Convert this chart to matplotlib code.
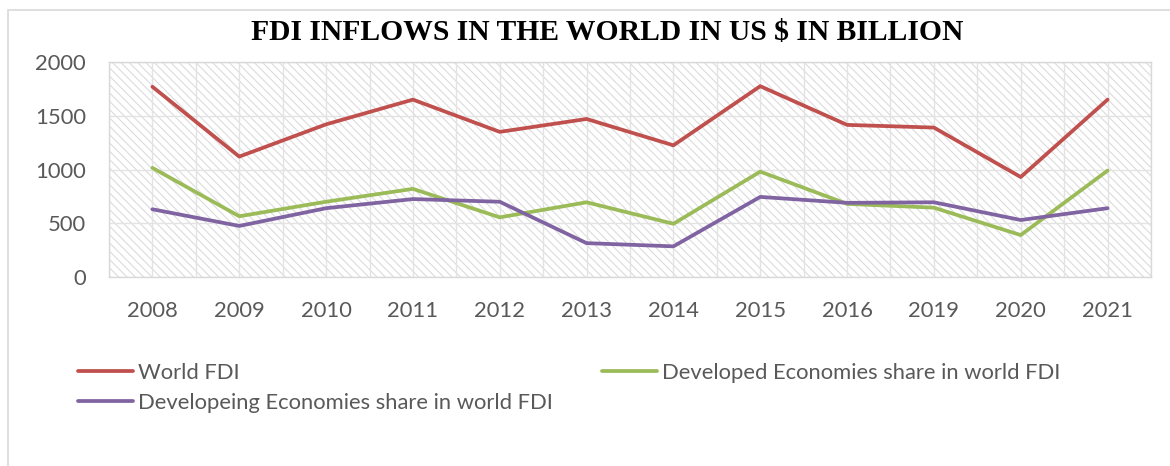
import matplotlib
matplotlib.use("Agg")
import matplotlib.pyplot as plt
from matplotlib.patches import Rectangle
from matplotlib.lines import Line2D
import numpy as np

years = ["2008", "2009", "2010", "2011", "2012", "2013", "2014", "2015", "2016", "2019", "2020", "2021"]
world_fdi = [1770, 1120, 1420, 1650, 1350, 1470, 1225, 1775, 1415, 1390, 930, 1650]
developed = [1015, 565, 700, 820, 555, 695, 495, 980, 680, 645, 390, 990]
developing = [630, 475, 640, 725, 700, 315, 285, 745, 690, 695, 530, 640]
y_ticks = [0, 500, 1000, 1500, 2000]

RED = "#C0504D"
GREEN = "#9BBB59"
PURPLE = "#8064A2"
TXT = "#595959"
FONT = "Lato"
FS = 15.8

plt.rcParams['hatch.color'] = '#DADADA'
plt.rcParams['hatch.linewidth'] = 0.75

fig = plt.figure(figsize=(11.7, 4.66), dpi=100)
W, H = 1170, 466

# outer chart border (cropped on right/bottom)
fig.add_artist(Rectangle((8 / W, -0.1), 2.0, (466 - 10) / H + 0.1, transform=fig.transFigure,
                         fill=False, edgecolor="#D9D9D9", linewidth=1.2))

ax = fig.add_axes([109 / W, (466 - 277) / H, (1151 - 109) / W, (277 - 62) / H])
ax.set_facecolor("white")
ax.add_patch(Rectangle((0, 0), 1, 1, transform=ax.transAxes, facecolor="white",
                       hatch="\\\\\\\\", edgecolor="#DADADA", linewidth=0, zorder=0))

x = np.arange(len(years))
ax.plot(x, world_fdi, color=RED, lw=2.7, solid_capstyle="round", zorder=3)
ax.plot(x, developed, color=GREEN, lw=2.7, solid_capstyle="round", zorder=3)
ax.plot(x, developing, color=PURPLE, lw=2.7, solid_capstyle="round", zorder=3)

ax.set_xlim(-0.5, len(years) - 0.5)
ax.set_ylim(0, 2000)
ax.set_yticks(y_ticks)
ax.set_xticks(x)
ax.set_xticklabels(years)
ax.set_xticks(np.arange(-0.5, len(years), 1.0), minor=True)

ax.grid(True, which="both", axis="x", color="#E3E3E3", lw=1.0, zorder=1)
ax.grid(True, which="major", axis="y", color="#E3E3E3", lw=1.0, zorder=1)
ax.set_axisbelow(True)

for s in ax.spines.values():
    s.set_color("#D9D9D9")
    s.set_linewidth(1.0)

ax.tick_params(axis="both", which="both", length=0, colors=TXT, labelsize=FS)
ax.tick_params(axis="y", pad=16.5)
ax.tick_params(axis="x", pad=17)
for lab in ax.get_xticklabels() + ax.get_yticklabels():
    lab.set_fontfamily(FONT)
    lab.set_color(TXT)

fig.text(607 / W, 1 - 33 / H, "FDI INFLOWS IN THE WORLD IN US $ IN BILLION",
         ha="center", va="center", fontsize=21.3, fontweight="bold",
         fontfamily="Liberation Serif", color="black")

def mk(c):
    return Line2D([], [], color=c, lw=2.7, solid_capstyle="round")

leg1 = fig.legend([mk(RED), mk(PURPLE)], ["World FDI", "Developeing Economies share in world FDI"],
                  loc="upper left", bbox_to_anchor=(67 / W, 1 - 352 / H), frameon=False,
                  handlelength=2.5, handletextpad=0.23, labelspacing=0.46, borderpad=0,
                  prop={"family": FONT, "size": FS})
leg2 = fig.legend([mk(GREEN)], ["Developed Economies share in world FDI"],
                  loc="upper left", bbox_to_anchor=(591 / W, 1 - 352 / H), frameon=False,
                  handlelength=2.5, handletextpad=0.23, borderpad=0,
                  prop={"family": FONT, "size": FS})
for lg in (leg1, leg2):
    for t in lg.get_texts():
        t.set_color(TXT)

fig.savefig("out.png", dpi=100)
